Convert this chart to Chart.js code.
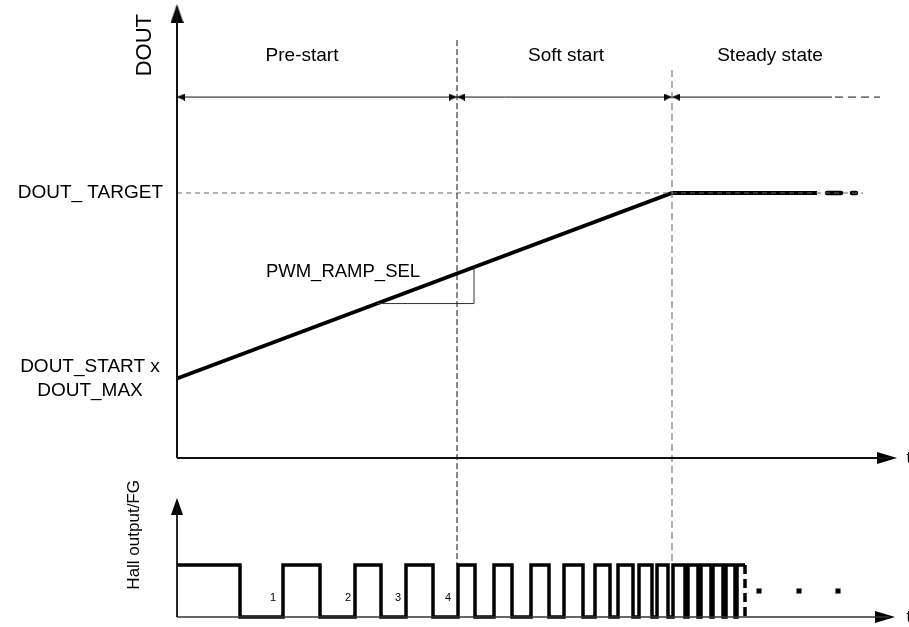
<!DOCTYPE html>
<html><head><meta charset="utf-8">
<script src="https://cdn.jsdelivr.net/npm/chart.js@4.4.1/dist/chart.umd.min.js"></script>
<style>html,body{margin:0;padding:0;background:#fff}#wrap{width:909px;height:627px;position:relative}</style>
</head><body><div id="wrap"><canvas id="c"></canvas></div>
<script>
// ---------- data (t = time units from the DOUT axis, DOUT as fraction of target, Hall as logic level)
const phaseNames = ['Pre-start', 'Soft start', 'Steady state'];
const phaseBounds = [0, 280, 495];
const phaseLabelT = [125, 389, 593];
const phaseRowDout = 1.362;
const phaseLabelDout = 1.517;
const steadySolidEndT = 655;
const steadyDashEndT = 703;
const doutStart = 0.3;
const doutTarget = 1.0;
const targetDashEndT = 686;
const holdEndT = 640;
const holdDash = [[650, 664], [675, 679]];
const rampSelT = [200, 297];
const hallEdges = [63,106,143,178,204,229,256,281,298,317,335,354,372,387,406,418,433,441,456,462,475,480,491,496,508,511,521,524,534,536,546,549,558,560];
const hallLastHighEndT = 568;
const hallCountLabels = ['1', '2', '3', '4'];
const hallCountT = [96, 171, 221, 271];
const hallDotsT = [582, 622, 661];
const tAxisEndUpper = 720;
const tAxisEndLower = 718;

// ---------- helpers
const FONT = '"Liberation Sans", Arial, sans-serif';
function arrowCanvas(len, wid) {
  const c = document.createElement('canvas');
  c.width = Math.ceil(wid); c.height = Math.ceil(len * 2);
  const g = c.getContext('2d');
  g.fillStyle = '#000';
  g.beginPath();
  g.moveTo(wid / 2, len); g.lineTo(wid, len * 2); g.lineTo(0, len * 2); g.closePath();
  g.fill();
  return c;
}
const bigArrowV = arrowCanvas(19, 13);
const bigArrowH = arrowCanvas(20, 12);
const hallArrowV = arrowCanvas(17, 12);
const smallArrow = arrowCanvas(8, 7);

function line(data, opts) {
  return Object.assign({ type: 'line', data, yAxisID: 'yD', borderColor: '#000', borderWidth: 1,
    pointRadius: 0, fill: false, tension: 0, borderCapStyle: 'butt', borderJoinStyle: 'miter' }, opts || {});
}
function arrow(x, y, axis, img, rot) {
  return { type: 'scatter', data: [{ x, y }], yAxisID: axis, pointStyle: img, pointRotation: rot,
    pointRadius: 5, showLine: false };
}

// Hall waveform
const hallData = [{ x: 0, y: 1 }];
hallEdges.forEach((t, i) => hallData.push({ x: t, y: i % 2 === 0 ? 0 : 1 }));
hallData.push({ x: hallLastHighEndT, y: 1 });

const rampAt = t => doutStart + (doutTarget - doutStart) * t / phaseBounds[2];

const datasets = [
  // DOUT axis and time axis
  line([{ x: 0, y: 0 }, { x: 0, y: 1.70 }], { borderWidth: 2, borderColor: '#111' }),
  arrow(0, 1.713, 'yD', bigArrowV, 0),
  line([{ x: 0, y: 0 }, { x: tAxisEndUpper - 6, y: 0 }], { borderWidth: 2, borderColor: '#111' }),
  arrow(tAxisEndUpper, 0, 'yD', bigArrowH, 90),
  // phase boundaries
  line([{ x: phaseBounds[1], y: 1.577 }, { x: phaseBounds[1], y: -0.404 }], { borderDash: [6, 3], borderColor: '#111' }),
  line([{ x: phaseBounds[2], y: 1.464 }, { x: phaseBounds[2], y: -0.404 }], { borderDash: [7, 4], borderWidth: 1.2, borderColor: '#7a7a7a' }),
  // phase span arrows
  line([{ x: 0, y: phaseRowDout }, { x: steadySolidEndT, y: phaseRowDout }], { borderColor: '#111' }),
  line([{ x: steadySolidEndT + 3, y: phaseRowDout }, { x: steadyDashEndT, y: phaseRowDout }], { borderColor: '#111', borderDash: [8, 5] }),
  arrow(phaseBounds[0], phaseRowDout, 'yD', smallArrow, 270),
  arrow(phaseBounds[1], phaseRowDout, 'yD', smallArrow, 90),
  arrow(phaseBounds[1], phaseRowDout, 'yD', smallArrow, 270),
  arrow(phaseBounds[2], phaseRowDout, 'yD', smallArrow, 90),
  arrow(phaseBounds[2], phaseRowDout, 'yD', smallArrow, 270),
  // target level
  line([{ x: 0, y: doutTarget }, { x: targetDashEndT, y: doutTarget }], { borderDash: [5, 4], borderColor: '#666' }),
  // PWM ramp triangle
  line([{ x: rampSelT[0], y: rampAt(rampSelT[0]) }, { x: rampSelT[1], y: rampAt(rampSelT[0]) }, { x: rampSelT[1], y: rampAt(rampSelT[1]) }], { borderColor: '#333' }),
  // DOUT ramp and hold
  line([{ x: 0, y: doutStart }, { x: phaseBounds[2], y: doutTarget }, { x: holdEndT, y: doutTarget }], { borderWidth: 4 }),
  ...holdDash.map(d => line([{ x: d[0], y: doutTarget }, { x: d[1], y: doutTarget }], { borderWidth: 4.5, borderCapStyle: 'round' })),
  // Hall axes
  line([{ x: 0, y: 0 }, { x: 0, y: 2.2 }], { yAxisID: 'yH', borderWidth: 1.8, borderColor: '#111' }),
  arrow(0, 2.29, 'yH', hallArrowV, 0),
  line([{ x: 0, y: 0 }, { x: tAxisEndLower - 6, y: 0 }], { yAxisID: 'yH', borderWidth: 1.5, borderColor: '#333' }),
  arrow(tAxisEndLower, 0, 'yH', bigArrowH, 90),
  // Hall waveform
  line(hallData, { yAxisID: 'yH', borderWidth: 3.5, stepped: true }),
  line([{ x: hallLastHighEndT, y: 1 }, { x: hallLastHighEndT, y: 0 }], { yAxisID: 'yH', borderWidth: 3.5, borderDash: [9, 5] }),
  { type: 'scatter', data: hallDotsT.map(t => ({ x: t, y: 0.5 })), yAxisID: 'yH', pointStyle: 'rect',
    pointRadius: 3.6, backgroundColor: '#000', borderColor: '#000', borderWidth: 0 }
];

const labels = [
  ...phaseNames.map((s, i) => ({ text: s, t: phaseLabelT[i], v: phaseLabelDout, axis: 'yD', size: 19, align: 'center' })),
  { text: 'DOUT_ TARGET', t: -14, v: doutTarget, axis: 'yD', size: 19, align: 'right' },
  { text: 'DOUT_START x', t: -87, v: 0.343, axis: 'yD', size: 19, align: 'center' },
  { text: 'DOUT_MAX', t: -87, v: 0.253, axis: 'yD', size: 19, align: 'center' },
  { text: 'PWM_RAMP_SEL', t: 166, v: 0.702, axis: 'yD', size: 18.5, align: 'center' },
  { text: 'DOUT', t: -32, v: 1.558, axis: 'yD', size: 22, align: 'center', rot: -Math.PI / 2 },
  { text: 'Hall output/FG', t: -43, v: 1.58, axis: 'yH', size: 17, align: 'center', rot: -Math.PI / 2 },
  { text: 't', t: 729.5, v: 0, axis: 'yD', size: 17, align: 'left' },
  { text: 't', t: 729.5, v: 0, axis: 'yH', size: 17, align: 'left' },
  ...hallCountLabels.map((s, i) => ({ text: s, t: hallCountT[i], v: 0.37, axis: 'yH', size: 11, align: 'center' }))
];

const textPlugin = {
  id: 'texts',
  afterDatasetsDraw(chart) {
    const ctx = chart.ctx;
    labels.forEach(l => {
      const x = chart.scales.x.getPixelForValue(l.t);
      const y = chart.scales[l.axis].getPixelForValue(l.v);
      ctx.save();
      ctx.fillStyle = '#000';
      ctx.font = l.size + 'px ' + FONT;
      ctx.textAlign = l.align;
      ctx.textBaseline = 'middle';
      ctx.translate(x, y);
      if (l.rot) ctx.rotate(l.rot);
      ctx.fillText(l.text, 0, 0);
      ctx.restore();
    });
  }
};

new Chart(document.getElementById('c'), {
  data: { datasets },
  options: {
    responsive: true, maintainAspectRatio: false, animation: false, events: [],
    layout: { padding: 0, autoPadding: false },
    plugins: { legend: { display: false }, tooltip: { enabled: false }, title: { display: false } },
    scales: {
      x: { type: 'linear', display: false, min: -177, max: 732 },
      yD: { type: 'linear', display: false, position: 'left', min: 1.7283 - 627 / 265, max: 1.7283 },
      yH: { type: 'linear', display: false, position: 'left', min: 617 / 52 - 627 / 52, max: 617 / 52 }
    }
  },
  plugins: [textPlugin]
});
</script></body></html>
